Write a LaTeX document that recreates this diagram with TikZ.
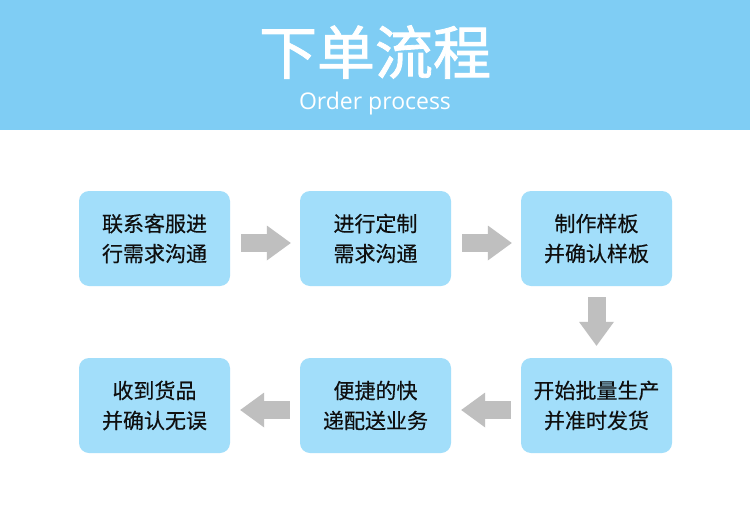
\documentclass[tikz,border=0pt]{standalone}
\usepackage{fontspec}
\setmainfont{Open Sans}
\newfontfamily\cjk{Noto Sans CJK SC}[FakeBold=0.4]
\newfontfamily\cjkb{Noto Sans CJK SC}[FakeBold=1.5]
\usetikzlibrary{arrows.meta}
\definecolor{headblue}{RGB}{127,205,244}
\definecolor{boxblue}{RGB}{162,222,250}
\definecolor{arrowgray}{RGB}{191,191,191}
\definecolor{txt}{RGB}{15,15,15}
\tikzset{
  stepbox/.style={fill=boxblue, rounded corners=10pt, minimum width=151pt, minimum height=95pt,
    inner sep=0pt, align=center, text=txt, font=\cjk\fontsize{21}{30}\selectfont},
  flowarrow/.style={draw=arrowgray, line width=18pt,
    -{Triangle[width=35pt,length=24pt,line width=0pt,fill=arrowgray]}}
}
\begin{document}
\begin{tikzpicture}[x=1pt,y=-1pt]
\useasboundingbox (0,0) rectangle (750,525);
\fill[white] (0,0) rectangle (750,525);
\fill[headblue] (0,0) rectangle (750,130);
\node[text=white, font=\cjkb\fontsize{58}{60}\selectfont] (title) at (375,52) {下单流程};
\node[text=white, font=\fontsize{23}{25}\selectfont] (sub) at (375,104) {Order process};

\node[stepbox] (b1) at (154.5,238.5) {联系客服进\\行需求沟通};
\node[stepbox] (b2) at (375.5,238.5) {进行定制\\需求沟通};
\node[stepbox] (b3) at (596.5,238.5) {制作样板\\并确认样板};
\node[stepbox] (b6) at (596.5,405.5) {开始批量生产\\并准时发货};
\node[stepbox] (b5) at (375.5,405.5) {便捷的快\\递配送业务};
\node[stepbox] (b4) at (154.5,405.5) {收到货品\\并确认无误};

\draw[flowarrow, shorten <=11pt, shorten >=9pt] ([yshift=-4.5pt]b1.east) -- ([yshift=-4.5pt]b2.west);
\draw[flowarrow, shorten <=11pt, shorten >=9pt] ([yshift=-4.5pt]b2.east) -- ([yshift=-4.5pt]b3.west);
\draw[flowarrow, shorten <=11pt, shorten >=12pt] (b3.south) -- (b6.north);
\draw[flowarrow, shorten <=10pt, shorten >=10pt] ([yshift=-4.5pt]b6.west) -- ([yshift=-4.5pt]b5.east);
\draw[flowarrow, shorten <=10pt, shorten >=10pt] ([yshift=-4.5pt]b5.west) -- ([yshift=-4.5pt]b4.east);
\end{tikzpicture}
\end{document}
